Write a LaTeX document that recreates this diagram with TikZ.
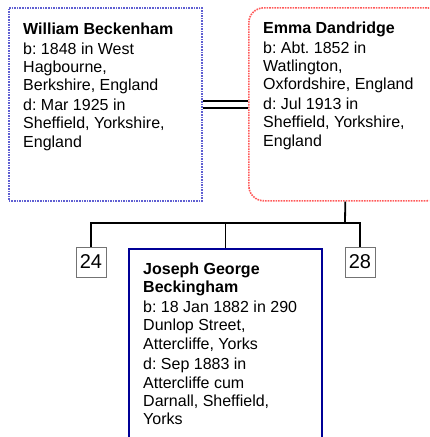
\documentclass[tikz,border=0pt]{standalone}
\usepackage{fontspec}
\setmainfont{Liberation Sans}
\frenchspacing
\definecolor{wblue}{RGB}{96,96,210}
\definecolor{ered}{RGB}{255,90,90}
\definecolor{jnavy}{RGB}{0,0,150}
\tikzset{
  person/.style={draw, line width=1.6pt, anchor=north west, inner sep=0pt},
  wbox/.style={person, draw=wblue, densely dotted},
  ebox/.style={person, draw=ered, densely dotted, rounded corners=15pt},
  jbox/.style={person, draw=jnavy, line width=1.8pt},
  info/.style={anchor=north west, inner sep=0pt, align=left, font=\fontsize{16}{18.4}\selectfont},
  numbox/.style={draw=black!55, line width=0.9pt, minimum width=30pt, minimum height=30pt, inner sep=0pt, font=\fontsize{20}{20}\selectfont},
  conn/.style={draw=black, line width=1.8pt}
}
\begin{document}
\begin{tikzpicture}[x=1pt,y=-1pt]
\useasboundingbox (0,0) rectangle (429,437);
\clip (0,0) rectangle (429,437);
\node[wbox, minimum width=193pt, minimum height=193pt] (w) at (8,7) {};
\node[ebox, minimum width=193pt, minimum height=193pt] (e) at (248,7) {};
\node[jbox, minimum width=193pt, minimum height=220pt] (j) at (128,248) {};
\node[numbox] (n24) at (91,262) {24};
\node[numbox] (n28) at (360,262) {28};
\node[info] (wt) at (23,22.5) {\textbf{William Beckenham}\\[1.5pt] b: 1848 in West\\ Hagbourne,\\ Berkshire, England\\[1.2pt] d: Mar 1925 in\\ Sheffield, Yorkshire,\\ England};
\node[info] (et) at (263,21.5) {\textbf{Emma Dandridge}\\[1.5pt] b: Abt. 1852 in\\ Watlington,\\ Oxfordshire, England\\[1.2pt] d: Jul 1913 in\\ Sheffield, Yorkshire,\\ England};
\node[info] (jt) at (143,262.5) {\textbf{Joseph George}\\ \textbf{Beckingham}\\[1.5pt] b: 18 Jan 1882 in 290\\ Dunlop Street,\\ Attercliffe, Yorks\\[2pt] d: Sep 1883 in\\ Attercliffe cum\\ Darnall, Sheffield,\\ Yorks};
\coordinate (bar) at (345,223);
\draw[conn] ([yshift=3.5pt]w.east) -- ([yshift=3.5pt]e.west);
\draw[conn] ([yshift=-3.5pt]w.east) -- ([yshift=-3.5pt]e.west);
\draw[conn] (e.south) -- (bar);
\draw[conn] (n24.north) -- (n24.north |- bar) -- (n28.north |- bar) -- (n28.north);
\draw[conn] (j.north) -- (j.north |- bar);
\end{tikzpicture}
\end{document}
